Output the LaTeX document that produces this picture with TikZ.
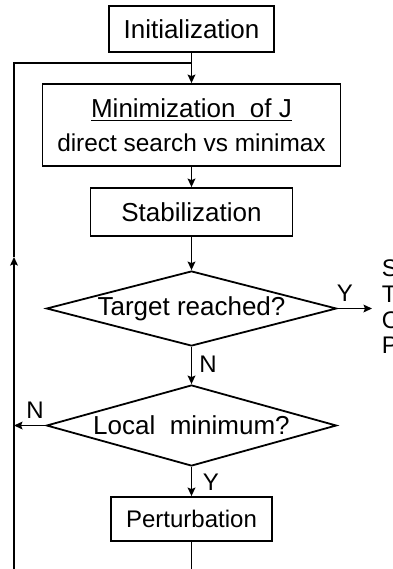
\documentclass[tikz,border=0pt]{standalone}
\usepackage{fontspec}
\setmainfont{Liberation Sans}
\usetikzlibrary{arrows.meta,shapes.geometric}
\begin{document}
\begin{tikzpicture}[x=0.5pt,y=-0.5pt,
  line width=0.9pt,
  box/.style={draw,rectangle,inner sep=0pt,font=\fontsize{13}{15.6}\selectfont},
  dia/.style={draw,diamond,inner sep=0pt,font=\fontsize{13}{15.6}\selectfont},
  lbl/.style={inner sep=0pt,font=\fontsize{12}{14}\selectfont},
  arr/.style={-{Stealth[length=4.2pt,width=3.8pt,inset=0.7pt]}}]
\useasboundingbox[fill=white] (0,0) rectangle (392,569);

\node[box,minimum width=82.5pt,minimum height=23pt] (init) at (191.5,29) {Initialization};
\node[box,minimum width=149pt,minimum height=41pt,align=center] (minim) at (191.5,125)
  {\underline{Minimization\ \ of J}\\[1.2pt]{\fontsize{12.2}{14}\selectfont direct search vs minimax}};
\node[box,minimum width=101pt,minimum height=24pt] (stab) at (191.5,212) {Stabilization};
\node[dia,minimum width=145pt,minimum height=37.5pt,shape aspect=3.87] (d1) at (191.5,308.5) {Target reached?};
\node[dia,minimum width=145pt,minimum height=40.5pt,shape aspect=3.58] (d2) at (191.5,425.5) {Local\ \ minimum?};
\node[box,minimum width=80.5pt,minimum height=22pt,font=\fontsize{12}{14}\selectfont] (pert) at (191.5,519) {Perturbation};

\coordinate (junc) at (191.5,63);
\coordinate (corner) at (14,63);
\coordinate (upmark) at (14,257);
\coordinate (botL) at (14,575);
\coordinate (botR) at (191.5,575);
\coordinate (leftN) at (14,425.5);
\coordinate (stopc) at (372,308.5);

\draw[arr] (init) -- (minim);
\draw[arr] (minim) -- (stab);
\draw[arr] (stab) -- (d1);
\draw[arr] (d1) -- (d2);
\draw[arr] (d2) -- (pert);
\draw[arr] (d1.east) -- (stopc);
\draw[arr] (d2.west) -- (leftN);
\draw (pert) -- (botR);
\draw[arr] (botL) -- (upmark);
\draw (upmark) -- (corner) -- (junc);

\node[lbl] (lN1) at (208,364) {N};
\node[lbl] (lY2) at (211,482) {Y};
\node[lbl] (lN2) at (35,410) {N};
\node[lbl] (lY1) at (345,293) {Y};

\node[lbl,anchor=west] (s1) at (381,268) {S};
\node[lbl,anchor=west] (s2) at (381,294) {T};
\node[lbl,anchor=west] (s3) at (381,320) {O};
\node[lbl,anchor=west] (s4) at (381,345) {P};
\end{tikzpicture}
\end{document}
